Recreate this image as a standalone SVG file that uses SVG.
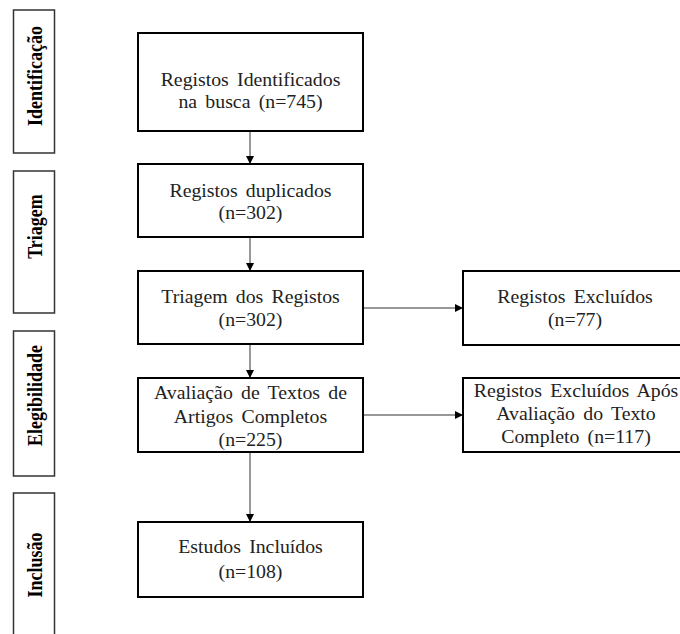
<svg xmlns="http://www.w3.org/2000/svg" width="680" height="634" viewBox="0 0 680 634">
<defs>
<style>
.box{fill:#fff;stroke:#000;stroke-width:2}
.lbl{fill:#fff;stroke:#333;stroke-width:1.5}
.t{font-family:"Liberation Serif","Times New Roman",serif;font-size:18px;fill:#222;text-anchor:middle;word-spacing:3px}
.v{font-family:"Liberation Serif","Times New Roman",serif;font-size:18px;font-weight:bold;fill:#000;text-anchor:middle}
.c{stroke:#333;stroke-width:1;fill:none}
</style>
<marker id="ah" viewBox="0 0 10 10" refX="10" refY="5" markerWidth="8" markerHeight="8" markerUnits="userSpaceOnUse" orient="auto">
<path d="M0,0 L10,5 L0,10 z" fill="#000"/>
</marker>
</defs>
<rect width="680" height="634" fill="#fff"/>

<g id="stage-identificacao">
<rect class="lbl" x="13.5" y="10" width="41" height="143"/>
<text class="v" transform="translate(42,76) rotate(-90) scale(1,1.12)">Identificação</text>
</g>
<g id="stage-triagem">
<rect class="lbl" x="13.5" y="171" width="41" height="142"/>
<text class="v" transform="translate(42,226.5) rotate(-90) scale(1,1.12)">Triagem</text>
</g>
<g id="stage-elegibilidade">
<rect class="lbl" x="13.5" y="331" width="41" height="145"/>
<text class="v" transform="translate(42,395.5) rotate(-90) scale(1,1.12)">Elegibilidade</text>
</g>
<g id="stage-inclusao">
<rect class="lbl" x="13.5" y="493" width="41" height="150"/>
<text class="v" transform="translate(42,565) rotate(-90) scale(1,1.12)">Inclusão</text>
</g>

<g id="connectors">
<line class="c" x1="250" y1="131" x2="250" y2="164" marker-end="url(#ah)"/>
<line class="c" x1="250" y1="237" x2="250" y2="271" marker-end="url(#ah)"/>
<line class="c" x1="250" y1="344" x2="250" y2="378" marker-end="url(#ah)"/>
<line class="c" x1="250" y1="452" x2="250" y2="522" marker-end="url(#ah)"/>
<line class="c" x1="363" y1="308" x2="463" y2="308" marker-end="url(#ah)"/>
<line class="c" x1="363" y1="415" x2="463" y2="415" marker-end="url(#ah)"/>
</g>

<g id="n1">
<rect class="box" x="138" y="33" width="225" height="98"/>
<text class="t" transform="translate(250.5,86) scale(1.1,1)">Registos Identificados</text>
<text class="t" transform="translate(250.5,108) scale(1.1,1)">na busca (n=745)</text>
</g>
<g id="n2">
<rect class="box" x="138" y="164" width="225" height="73"/>
<text class="t" transform="translate(250.5,197) scale(1.1,1)">Registos duplicados</text>
<text class="t" transform="translate(250.5,219) scale(1.1,1)">(n=302)</text>
</g>
<g id="n3">
<rect class="box" x="138" y="271" width="225" height="73"/>
<text class="t" transform="translate(250.5,303) scale(1.1,1)">Triagem dos Registos</text>
<text class="t" transform="translate(250.5,326) scale(1.1,1)">(n=302)</text>
</g>
<g id="n4">
<rect class="box" x="138" y="378" width="225" height="74"/>
<text class="t" transform="translate(250.5,399) scale(1.1,1)">Avaliação de Textos de</text>
<text class="t" transform="translate(250.5,423) scale(1.1,1)">Artigos Completos</text>
<text class="t" transform="translate(250.5,446) scale(1.1,1)">(n=225)</text>
</g>
<g id="n5">
<rect class="box" x="138" y="522" width="225" height="75"/>
<text class="t" transform="translate(250.5,553) scale(1.1,1)">Estudos Incluídos</text>
<text class="t" transform="translate(250.5,578) scale(1.1,1)">(n=108)</text>
</g>
<g id="r1">
<rect class="box" x="463" y="271" width="230" height="74"/>
<text class="t" transform="translate(575,303) scale(1.1,1)">Registos Excluídos</text>
<text class="t" transform="translate(575,326) scale(1.1,1)">(n=77)</text>
</g>
<g id="r2">
<rect class="box" x="463" y="378" width="230" height="74"/>
<text class="t" transform="translate(576,397) scale(1.1,1)">Registos Excluídos Após</text>
<text class="t" transform="translate(576,420) scale(1.1,1)">Avaliação do Texto</text>
<text class="t" transform="translate(576,443) scale(1.1,1)">Completo (n=117)</text>
</g>
</svg>
